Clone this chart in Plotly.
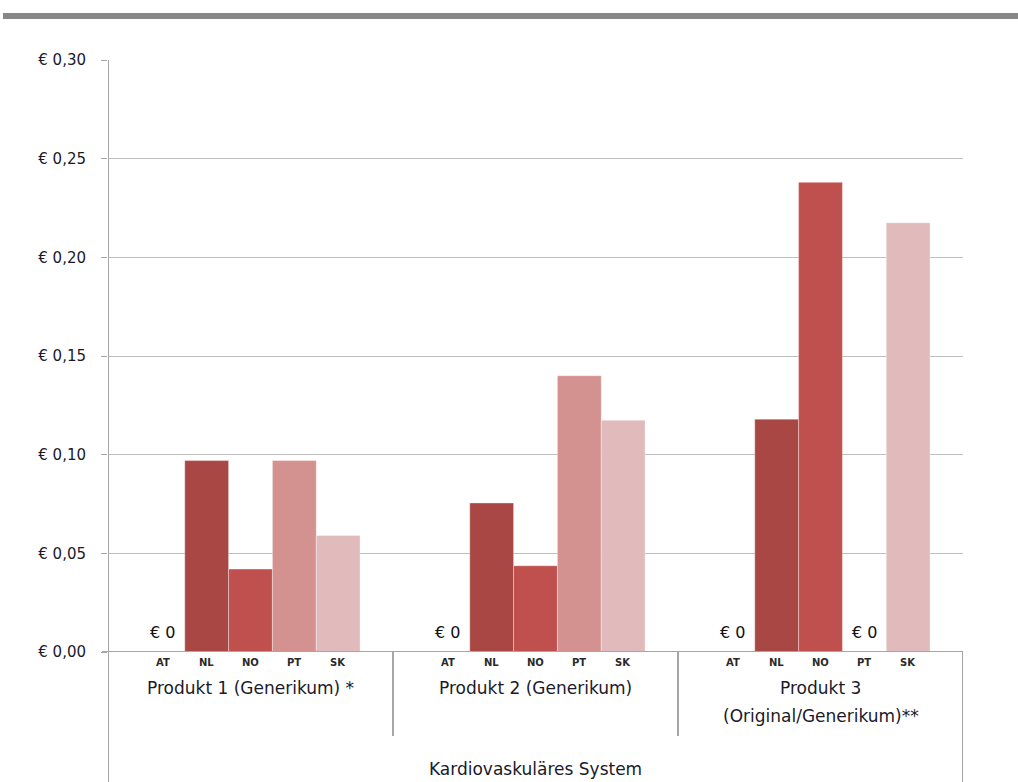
import plotly.graph_objects as go

groups = ["Produkt 1 (Generikum) *", "Produkt 2 (Generikum)", "Produkt 3\n(Original/Generikum)**"]
countries = ["AT", "NL", "NO", "PT", "SK"]
values = {
    "AT": [0.0, 0.0, 0.0],
    "NL": [0.097, 0.0755, 0.118],
    "NO": [0.042, 0.0437, 0.238],
    "PT": [0.097, 0.140, 0.0],
    "SK": [0.059, 0.1175, 0.2175],
}
colors = {"AT": "#A94745", "NL": "#A94745", "NO": "#C0504D", "PT": "#D39290", "SK": "#E1BBBB"}
ytick_vals = [0.0, 0.05, 0.10, 0.15, 0.20, 0.25, 0.30]
ytick_text = ["€ 0,00", "€ 0,05", "€ 0,10", "€ 0,15", "€ 0,20", "€ 0,25", "€ 0,30"]
system_label = "Kardiovaskuläres System"
zero_label = "€ 0"

FONT = "DejaVu Sans"
TXT = "#1a1a2a"
GRID = "#BEBEBE"
AXIS = "#A6A6A6"
BARGAP = 0.231

fig = go.Figure()
xidx = list(range(len(groups)))
for c in countries:
    fig.add_trace(go.Bar(
        x=xidx, y=values[c], name=c,
        marker=dict(color=colors[c], line=dict(color="rgba(255,255,255,0.35)", width=1)),
        cliponaxis=False, hoverinfo="skip",
    ))

H_PLOT = 592.0
def py(px_below):  # pixels below the x axis -> paper y
    return -px_below / H_PLOT

shapes = []
shapes.append(dict(type="rect", xref="paper", yref="paper", x0=-0.1228, x1=1.07,
                   y0=(652 - 19) / H_PLOT, y1=(652 - 13) / H_PLOT,
                   fillcolor="#878787", line=dict(width=0), layer="above"))
shapes.append(dict(type="line", xref="x", yref="paper", x0=-0.5, x1=-0.5, y0=1, y1=py(140),
                   line=dict(color=AXIS, width=2)))
for b in [0.5, 1.5]:
    shapes.append(dict(type="line", xref="x", yref="paper", x0=b, x1=b, y0=0, y1=py(84),
                       line=dict(color=AXIS, width=2)))
shapes.append(dict(type="line", xref="x", yref="paper", x0=len(groups) - 0.5, x1=len(groups) - 0.5,
                   y0=0, y1=py(140), line=dict(color=AXIS, width=2)))
shapes.append(dict(type="line", xref="paper", yref="y", x0=-6 / 855, x1=1, y0=0, y1=0,
                   line=dict(color=AXIS, width=2)))

annotations = []
slot = (1 - BARGAP) / len(countries)
for gi in xidx:
    for ci, c in enumerate(countries):
        xpos = gi + (ci - (len(countries) - 1) / 2) * slot
        annotations.append(dict(x=xpos, xref="x", y=0, yref="paper", yshift=-10, yanchor="middle",
                                text="<b>" + c + "</b>", showarrow=False,
                                font=dict(family=FONT, size=10, color="#2a2a2a")))
        if values[c][gi] == 0:
            annotations.append(dict(x=xpos, xref="x", y=0, yref="y", yshift=20, yanchor="middle",
                                    text=zero_label, showarrow=False,
                                    font=dict(family=FONT, size=16, color="#111111")))
    for li, line in enumerate(groups[gi].split("\n")):
        annotations.append(dict(x=gi, xref="x", y=0, yref="paper", yshift=-36 - 28 * li,
                                yanchor="middle", text=line, showarrow=False,
                                font=dict(family=FONT, size=17, color=TXT)))
annotations.append(dict(x=0.5, xref="paper", y=0, yref="paper", yshift=-117, yanchor="middle",
                        text=system_label, showarrow=False,
                        font=dict(family=FONT, size=17, color=TXT)))

fig.update_layout(
    width=1018, height=782,
    margin=dict(l=108, r=55, t=60, b=130),
    paper_bgcolor="white", plot_bgcolor="white",
    barmode="group", bargap=BARGAP, bargroupgap=0,
    showlegend=False, hovermode=False,
    shapes=shapes, annotations=annotations,
    xaxis=dict(range=[-0.5, len(groups) - 0.5], showticklabels=False, showgrid=False,
               zeroline=False, showline=False, ticks="", fixedrange=True),
    yaxis=dict(range=[0, 0.30], tickvals=ytick_vals, ticktext=ytick_text,
               showgrid=True, gridcolor=GRID, gridwidth=1, zeroline=False,
               showline=False, ticks="outside", ticklen=6, tickcolor=AXIS, tickwidth=1,
               ticklabelstandoff=12, fixedrange=True,
               tickfont=dict(family=FONT, size=15, color=TXT)),
)

fig.write_html("out.html", config={"displayModeBar": False},
               post_script="document.body.style.margin='0';document.body.style.overflow='hidden';")
